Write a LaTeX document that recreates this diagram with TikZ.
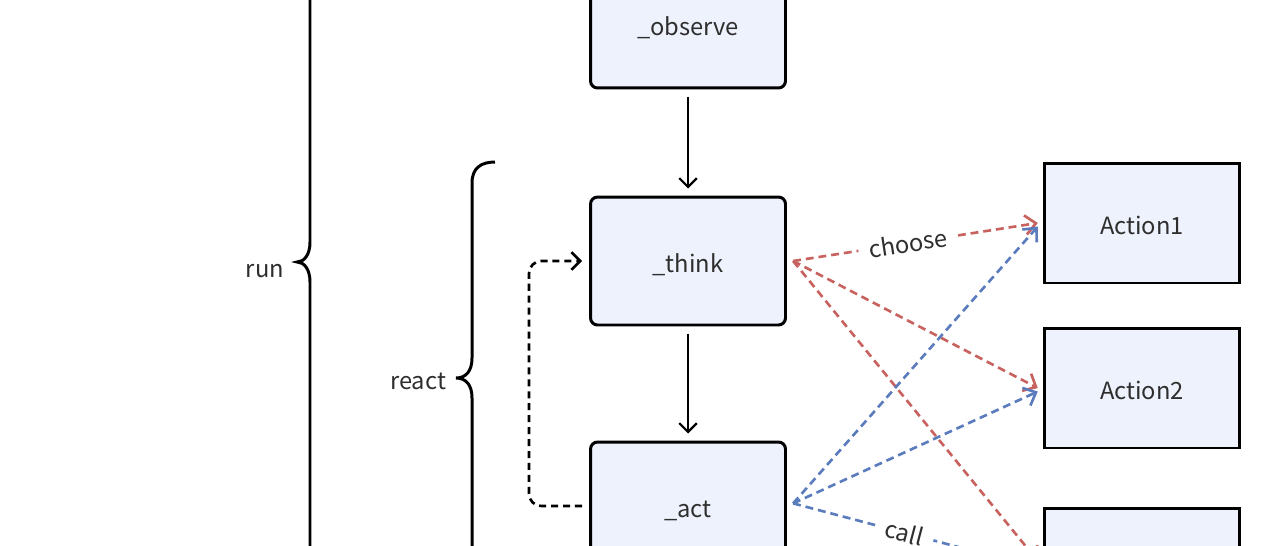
\documentclass[tikz,border=0pt]{standalone}
\usepackage{fontspec}
\setmainfont{Noto Sans CJK SC}
\usetikzlibrary{arrows.meta}
\definecolor{boxfill}{HTML}{EEF2FC}
\definecolor{choosered}{HTML}{C8625F}
\definecolor{callblue}{HTML}{5A7CBD}
\definecolor{txtgray}{HTML}{2E2E2E}
\tikzset{
	funcbox/.style={draw=black, fill=boxfill, rounded corners=4pt, line width=1.7pt, minimum width=3.9cm, minimum height=2.56cm, text=txtgray, text height=13.5pt, text depth=0pt},
	actbox/.style={draw=black, fill=boxfill, line width=1.7pt, minimum width=3.9cm, minimum height=2.4cm, text=txtgray, text height=13.5pt, text depth=0pt},
	flow/.style={line width=1.3pt, -{Straight Barb[length=5pt,width=10pt]}, shorten <=4pt, shorten >=4pt},
	backloop/.style={line width=1.5pt, dash pattern=on 4pt off 2.8pt, rounded corners=7pt, -{Straight Barb[length=5pt,width=10pt]}},
	brace/.style={line width=1.7pt},
	bracelabel/.style={text=txtgray, text height=13pt, text depth=0pt},
	choose/.style={choosered, line width=1.5pt, dash pattern=on 4.5pt off 2.8pt, -{Straight Barb[length=6pt,width=11pt]}},
	call/.style={callblue, line width=1.5pt, dash pattern=on 4.5pt off 2.8pt, -{Straight Barb[length=6pt,width=11pt]}},
	tag/.style={text=txtgray, fill=white, inner xsep=6pt, inner ysep=2pt}
}
\begin{document}
\begin{tikzpicture}[x=0.02cm, y=-0.02cm, font=\fontsize{13.5}{16}\selectfont]
	\useasboundingbox (0,0) rectangle (1280,545);
	\clip (0,0) rectangle (1280,545);
	% steps of one round
	\node[funcbox] (observe) at (688,24) {\_observe};
	\node[funcbox] (think) at (688,261) {\_think};
	\node[funcbox] (act) at (688,506) {\_act};
	% actions
	\node[actbox] (action1) at (1142,223) {Action1};
	\node[actbox] (action2) at (1142,388) {Action2};
	\node[actbox] (action3) at (1142,568) {};
	\draw[flow] (observe) -- (think);
	\draw[flow] (think) -- (act);
	\draw[backloop] ([xshift=-4pt]act.west) -- ++(-53,0) |- ([xshift=-4pt]think.west);
	% braces
	\draw[brace] (310,-20) -- (310,242) .. controls (310,255) and (304,262) .. (297,262) .. controls (304,262) and (310,269) .. (310,282) -- (310,560);
	\node[bracelabel] (runlabel) at (265,266) {run};
	\draw[brace] (495,162) .. controls (481,162) and (472,168) .. (472,183) -- (472,358) .. controls (472,371) and (466,378) .. (456,378) .. controls (466,378) and (472,385) .. (472,398) -- (472,560);
	\node[bracelabel] (reactlabel) at (418,378) {react};
	% choose and call
	\coordinate (thinkout) at ([xshift=3.5pt]think.east);
	\coordinate (actout) at ([xshift=3.5pt,yshift=1.5pt]act.east);
	\draw[choose] (thinkout) -- node[sloped, tag, pos=0.47] {choose} ([xshift=-3pt]action1.west);
	\draw[choose] (thinkout) -- ([xshift=-3pt]action2.west);
	\draw[choose] (thinkout) -- ([xshift=-3pt,yshift=4pt]action3.west);
	\draw[call] (actout) -- ([xshift=-3pt,yshift=-2pt]action1.west);
	\draw[call] (actout) -- ([xshift=-3pt,yshift=-2pt]action2.west);
	\draw[call] (actout) -- node[sloped, tag, pos=0.455] {call} ([xshift=-3pt]action3.west);
\end{tikzpicture}
\end{document}
